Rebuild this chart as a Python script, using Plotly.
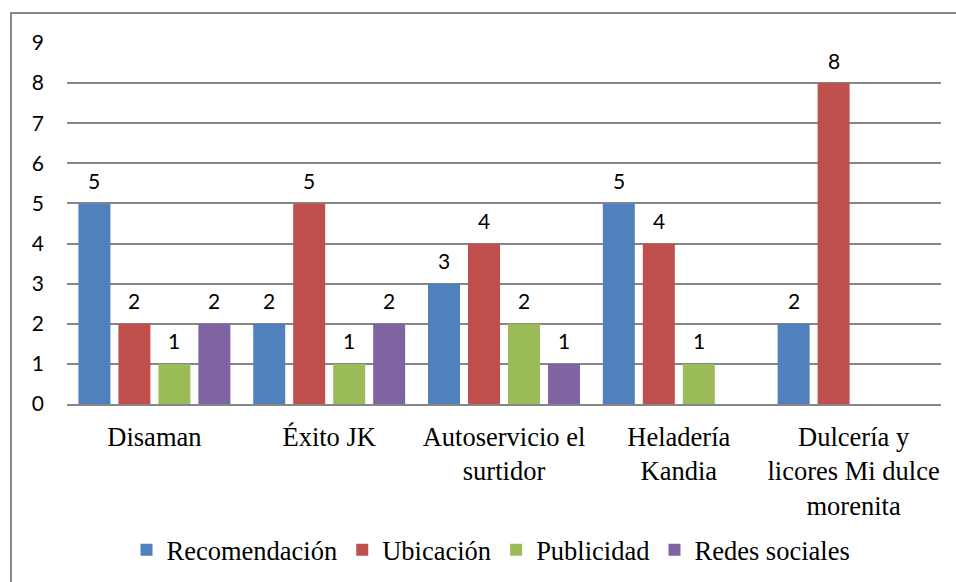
import plotly.graph_objects as go

categories = ["Disaman", "Éxito JK", "Autoservicio el<br>surtidor", "Heladería<br>Kandia",
              "Dulcería y<br>licores Mi dulce<br>morenita"]
recomendacion = [5, 2, 3, 5, 2]
ubicacion = [2, 5, 4, 4, 8]
publicidad = [1, 1, 2, 1, None]
redes = [2, 2, 1, None, None]
y_ticks = [0, 1, 2, 3, 4, 5, 6, 7, 8, 9]

series = [
    ("Recomendación", recomendacion, "#4F81BD"),
    ("Ubicación", ubicacion, "#C0504D"),
    ("Publicidad", publicidad, "#9BBB59"),
    ("Redes sociales", redes, "#8064A2"),
]

SANS = "Lato"
SERIF = "Liberation Serif"
BARGAP = 0.085

fig = go.Figure()
for name, vals, col in series:
    fig.add_trace(go.Bar(
        name=name, x=categories, y=vals, marker_color=col,
        marker_line_width=0,
    ))

# value labels above each bar, positioned from the data and the bar layout
n = len(series)
slot = (1 - BARGAP) / n
annotations = []
for s, (name, vals, col) in enumerate(series):
    for i, v in enumerate(vals):
        if v is None:
            continue
        annotations.append(dict(
            x=i + (s - (n - 1) / 2) * slot, y=v, xref="x", yref="y",
            text=str(v), showarrow=False, yanchor="middle", yshift=23,
            font=dict(family=SANS, size=21, color="black"),
        ))

W, H = 956, 582
L, R, T, B = 67, 15, 43, 178
pw, ph = W - L - R, H - T - B


def px_x(x):
    return (x - L) / pw


def px_y(y):
    return (H - B - y) / ph


fig.update_layout(
    width=W, height=H,
    margin=dict(l=L, r=R, t=T, b=B, autoexpand=False),
    paper_bgcolor="white", plot_bgcolor="white",
    barmode="group", bargap=BARGAP, bargroupgap=0.2,
    showlegend=True,
    annotations=annotations,
    legend=dict(orientation="h", x=px_x(491), xanchor="center",
                y=px_y(550), yanchor="middle",
                font=dict(family=SERIF, size=26.5, color="black"),
                traceorder="normal"),
    xaxis=dict(showline=True, linecolor="#868686", linewidth=2,
               tickfont=dict(family=SERIF, size=26.5, color="black"),
               ticks="", showgrid=False, automargin=False,
               ticklabelstandoff=8),
    yaxis=dict(range=[0, 9], tickvals=y_ticks, showgrid=True,
               gridcolor="#868686", gridwidth=1.5, zeroline=False,
               showline=False, ticks="", ticklabelstandoff=22,
               automargin=False,
               tickfont=dict(family=SANS, size=21, color="black")),
    shapes=[dict(type="rect", xref="paper", yref="paper",
                 x0=px_x(11), x1=px_x(W + 10),
                 y0=px_y(H + 10), y1=px_y(13),
                 line=dict(color="#868686", width=2), layer="below")],
)

fig.write_html("out.html",
               config={"displayModeBar": False},
               post_script="document.body.style.margin='0';"
                           "document.body.style.overflow='hidden';")
